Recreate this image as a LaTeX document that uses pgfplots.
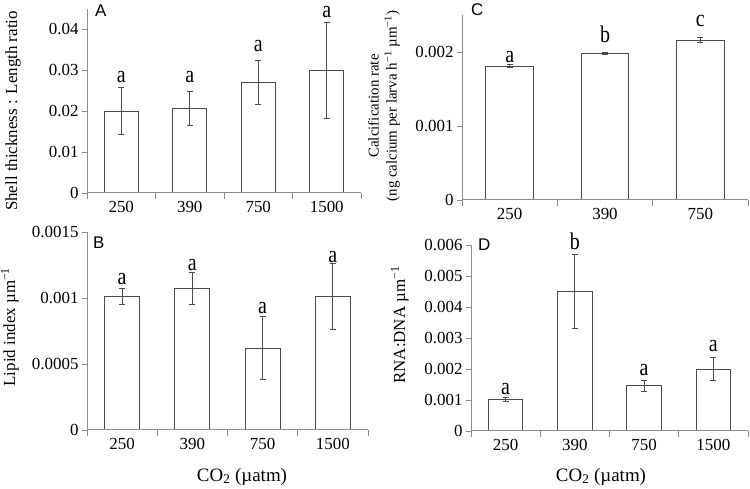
\documentclass[border=0pt]{standalone}
\usepackage{fontspec}
\setmainfont{Liberation Serif}
\newfontfamily\arialfont{Liberation Sans}
\usepackage{graphicx}
\usepackage{pgfplots}
\pgfplotsset{compat=1.18}
\definecolor{axgray}{gray}{0.55}
\definecolor{bardraw}{gray}{0.3}
\definecolor{errcol}{gray}{0.3}
\pgfplotsset{panel/.style={
  scale only axis, anchor=south west,
  axis x line*=bottom, axis y line*=left,
  axis line style={axgray, line width=1bp, -},
  axis on top,
  ybar, bar width=0.5, ymin=0,
  tick align=outside,
  major tick length=5bp, minor tick length=6bp,
  every tick/.style={axgray, line width=0.9bp},
  major x tick style={draw=none},
  ticklabel style={font=\fontsize{17}{17}\selectfont},
  /pgf/number format/assume math mode=true,
  yticklabel style={/pgf/number format/fixed, /pgf/number format/precision=4},
  scaled y ticks=false,
  clip=false,
  error bars/y dir=both, error bars/y explicit,
  error bars/error bar style={errcol, line width=1bp},
  error bars/error mark options={rotate=90, mark size=3bp, errcol, line width=1bp},
}}
\pgfplotsset{four/.style={xmin=-0.5, xmax=3.5, xtick={0,1,2,3},
  xticklabels={250,390,750,1500}, minor xtick={-0.5,0.5,1.5,2.5,3.5}}}
\pgfplotsset{barsty/.style={fill=white, draw=bardraw, line width=1bp}}
\newcommand{\sig}[3]{\node[anchor=base, inner sep=0pt, font=\fontsize{20}{20}\selectfont] at (axis cs:#1,#2) {\scalebox{1}[1.2]{#3}};}
\begin{document}
\begin{tikzpicture}
\path[use as bounding box] (0,0) rectangle (750bp,489bp);
% Panel A
\begin{axis}[panel, four, at={(87bp,296bp)}, width=274bp, height=184bp,
  ymax=0.045, ytick={0,0.01,0.02,0.03,0.04}]
\addplot[barsty] coordinates {(0,0.0200) +- (0,0.0057) (1,0.0207) +- (0,0.0041) (2,0.0271) +- (0,0.0054) (3,0.0300) +- (0,0.0117)};
\sig{0}{0.0270}{a}\sig{1}{0.0270}{a}\sig{2}{0.0346}{a}\sig{3}{0.0430}{a}
\end{axis}
% Panel B
\begin{axis}[panel, four, at={(87bp,59bp)}, width=281bp, height=198bp,
  ymax=0.0015, ytick={0,0.0005,0.001,0.0015}]
\addplot[barsty] coordinates {(0,0.00101) +- (0,0.00006) (1,0.00107) +- (0,0.00012) (2,0.00062) +- (0,0.00024) (3,0.00101) +- (0,0.00025)};
\sig{0}{0.00110}{a}\sig{1}{0.00121}{a}\sig{2}{0.00088}{a}\sig{3}{0.00127}{a}
\end{axis}
% Panel C
\begin{axis}[panel, at={(462bp,289bp)}, width=286bp, height=185bp,
  xmin=-0.5, xmax=2.5, xtick={0,1,2}, xticklabels={250,390,750}, minor xtick={-0.5,0.5,1.5,2.5},
  ymax=0.0025, ytick={0,0.001,0.002}]
\addplot[barsty] coordinates {(0,0.00181) +- (0,0.00002) (1,0.00198) +- (0,0.00001) (2,0.00216) +- (0,0.00003)};
\sig{0}{0.00186}{a}\sig{1}{0.00213}{b}\sig{2}{0.00234}{c}
\end{axis}
% Panel D
\begin{axis}[panel, four, at={(471bp,58bp)}, width=277bp, height=186bp,
  ymax=0.006, ytick={0,0.001,0.002,0.003,0.004,0.005,0.006}]
\addplot[barsty] coordinates {(0,0.00102) +- (0,0.00006) (1,0.00450) +- (0,0.00118) (2,0.00146) +- (0,0.00018) (3,0.00199) +- (0,0.00037)};
\sig{0}{0.00117}{a}\sig{1}{0.00587}{b}\sig{2}{0.00178}{a}\sig{3}{0.00256}{a}
\end{axis}
% panel letters
\node[anchor=north west, inner sep=0pt, font=\arialfont\fontsize{17}{17}\selectfont] at (95bp,484bp) {A};
\node[anchor=north west, inner sep=0pt, font=\arialfont\fontsize{17}{17}\selectfont] at (93bp,252bp) {B};
\node[anchor=north west, inner sep=0pt, font=\arialfont\fontsize{17}{17}\selectfont] at (471bp,486bp) {C};
\node[anchor=north west, inner sep=0pt, font=\arialfont\fontsize{17}{17}\selectfont] at (478bp,250bp) {D};
% y labels
\node[rotate=90, inner sep=0pt, font=\fontsize{17}{17}\selectfont] at (13bp,378bp) {Shell thickness : Length ratio};
\node[rotate=90, inner sep=0pt, font=\fontsize{17}{17}\selectfont] at (10bp,162bp) {Lipid index µm\textsuperscript{−1}};
\node[rotate=90, inner sep=0pt, align=center, font=\fontsize{15}{18}\selectfont] at (384bp,383bp) {Calcification rate\\(ng calcium per larva h\textsuperscript{−1} µm\textsuperscript{−1})};
\node[rotate=90, inner sep=0pt, font=\fontsize{17}{17}\selectfont] at (400bp,164bp) {RNA:DNA µm\textsuperscript{−1}};
% x labels
\node[anchor=base, inner sep=0pt, font=\fontsize{19}{19}\selectfont] at (242bp,8bp) {CO\textsubscript{2} (µatm)};
\node[anchor=base, inner sep=0pt, font=\fontsize{19}{19}\selectfont] at (601bp,8bp) {CO\textsubscript{2} (µatm)};
\end{tikzpicture}
\end{document}
